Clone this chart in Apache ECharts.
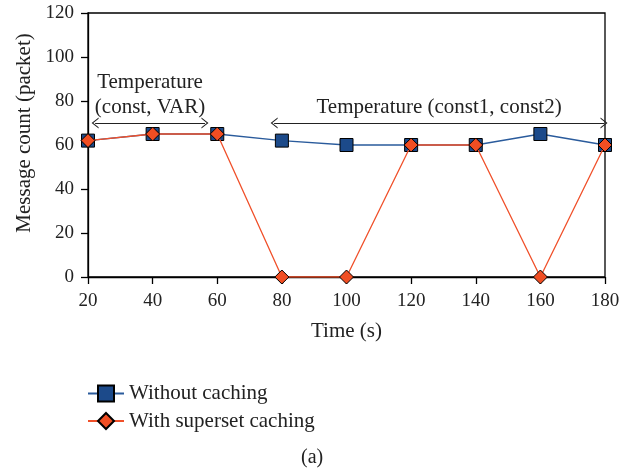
<!DOCTYPE html>
<html>
<head>
<meta charset="utf-8">
<script src="https://cdn.jsdelivr.net/npm/echarts@6/dist/echarts.min.js"></script>
<style>
  html, body { margin: 0; padding: 0; background: #fff; }
  #chart { width: 630px; height: 469px; }
</style>
</head>
<body>
<div id="chart"></div>
<script>
const timeSteps = [20, 40, 60, 80, 100, 120, 140, 160, 180];
const withoutCaching = [62, 65, 65, 62, 60, 60, 60, 65, 60];
const supersetCaching = [62, 65, 65, 0, 0, 60, 60, 0, 60];

// annotation arrows, in data units: [xFrom, xTo, y, label]
const spanVar = [22.2, 56.2, 70, 'Temperature\n(const, VAR)'];
const spanConst = [77.6, 179.7, 70, 'Temperature (const1, const2)'];

const font = 'Liberation Serif, DejaVu Serif, serif';
const chevron = 'path://M0,10 L5,0 L10,10 L8.8,10 L5,2.4 L1.2,10 Z';

function spanLine(span) {
    return [
        { coord: [span[0], span[2]], label: { formatter: span[3] } },
        { coord: [span[1], span[2]] }
    ];
}

const chart = echarts.init(document.getElementById('chart'));
chart.setOption({
    animation: false,
    textStyle: { fontFamily: font },
    grid: {
        left: 88,
        right: 25,
        top: 13,
        bottom: 192,
        show: true,
        borderColor: '#000',
        borderWidth: 1.3,
        backgroundColor: 'transparent'
    },
    legend: {
        orient: 'vertical',
        left: 82,
        top: 378,
        itemWidth: 36,
        itemHeight: 20,
        itemGap: 6.5,
        textStyle: { fontFamily: font, fontSize: 21, color: '#222' },
        data: ['Without caching', 'With superset caching']
    },
    graphic: [{
        type: 'text',
        left: 301,
        top: 448,
        style: { text: '(a)', font: '20px ' + font, fill: '#222' }
    }],
    xAxis: {
        type: 'value',
        min: 20,
        max: 180,
        interval: 20,
        name: 'Time (s)',
        nameLocation: 'middle',
        nameGap: 44,
        nameTextStyle: { fontFamily: font, fontSize: 21, color: '#222' },
        axisLine: { lineStyle: { color: '#000', width: 1.3 } },
        axisTick: { show: true, length: 7, lineStyle: { color: '#000', width: 1.3 } },
        axisLabel: { fontFamily: font, fontSize: 19, color: '#222', margin: 15 },
        splitLine: { show: false }
    },
    yAxis: {
        type: 'value',
        min: 0,
        max: 120,
        interval: 20,
        name: 'Message count (packet)',
        nameLocation: 'middle',
        nameGap: 51,
        nameTextStyle: { fontFamily: font, fontSize: 21, color: '#222', padding: [0, 0, 0, 24] },
        axisLine: { show: true, lineStyle: { color: '#000', width: 1.3 } },
        axisTick: { show: true, length: 7, lineStyle: { color: '#000', width: 1.3 } },
        axisLabel: { fontFamily: font, fontSize: 19, color: '#222', margin: 14 },
        splitLine: { show: false }
    },
    series: [
        {
            name: 'Without caching',
            type: 'line',
            data: timeSteps.map((t, i) => [t, withoutCaching[i]]),
            symbol: 'rect',
            symbolSize: 13,
            z: 2,
            lineStyle: { color: '#2a5b9c', width: 1.3 },
            itemStyle: { color: '#1c4a8a', borderColor: '#000', borderWidth: 1 },
            markLine: {
                silent: true,
                symbol: [chevron, chevron],
                symbolSize: [11, 7],
                lineStyle: { color: '#222', width: 1.1, type: 'solid' },
                label: {
                    show: true,
                    position: 'insideMiddleTop',
                    distance: 3,
                    fontFamily: font,
                    fontSize: 21,
                    lineHeight: 25,
                    color: '#222'
                },
                emphasis: { disabled: true },
                data: [spanLine(spanVar), spanLine(spanConst)]
            }
        },
        {
            name: 'With superset caching',
            type: 'line',
            data: timeSteps.map((t, i) => [t, supersetCaching[i]]),
            symbol: 'diamond',
            symbolSize: 14,
            z: 3,
            lineStyle: { color: '#f0502a', width: 1.3 },
            itemStyle: { color: '#f04e23', borderColor: '#000', borderWidth: 1 }
        }
    ]
});
</script>
</body>
</html>
